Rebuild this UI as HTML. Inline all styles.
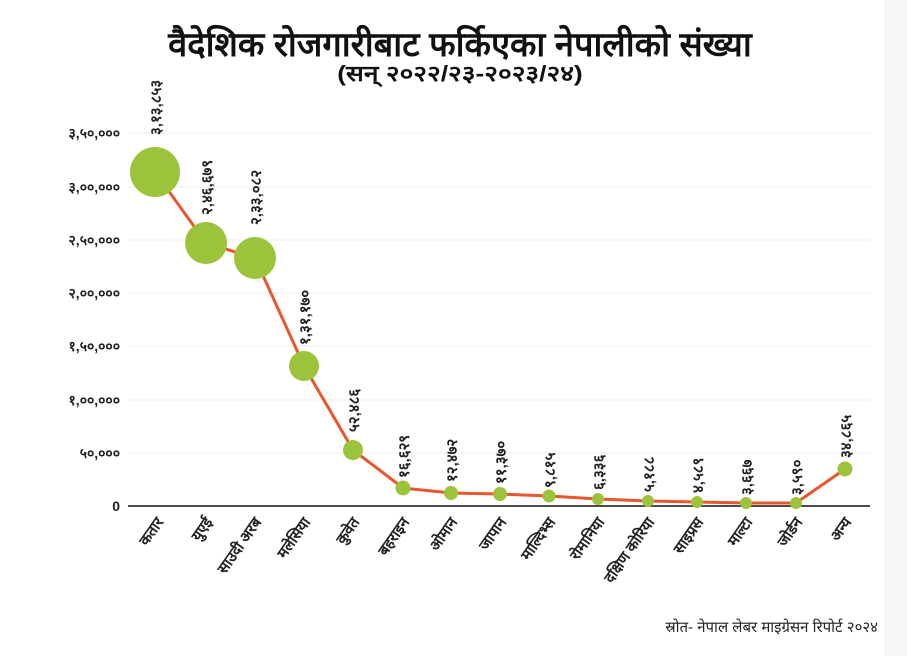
<!DOCTYPE html>
<html><head><meta charset="utf-8"><style>
body{margin:0;background:#fff;}
svg{display:block;font-family:"Liberation Sans","DejaVu Sans",sans-serif;}
</style></head><body>
<svg width="907" height="656" viewBox="0 0 907 656">
<rect x="0" y="0" width="907" height="656" fill="#fff"/>
<rect x="884" y="0" width="23" height="656" fill="#f6f6f6"/>
<text x="460" y="56" text-anchor="middle" font-size="31" font-weight="bold" fill="#111" transform="translate(460,0) scale(1.11,1.1) translate(-460,-5)">वैदेशिक रोजगारीबाट फर्किएका नेपालीको संख्या</text>
<text x="460" y="81" text-anchor="middle" font-size="22" font-weight="bold" fill="#111" transform="translate(460,0) scale(1.2,1) translate(-460,0)">(सन् २०२२/२३-२०२३/२४)</text>
<g stroke="#eeeeee" stroke-width="1">
<line x1="128" x2="870" y1="133" y2="133"/><line x1="128" x2="870" y1="187" y2="187"/>
<line x1="128" x2="870" y1="240" y2="240"/><line x1="128" x2="870" y1="293" y2="293"/>
<line x1="128" x2="870" y1="346" y2="346"/><line x1="128" x2="870" y1="400" y2="400"/>
<line x1="128" x2="870" y1="453" y2="453"/>
</g>
<line x1="128" x2="870" y1="506" y2="506" stroke="#111" stroke-width="1.5"/>
<g font-size="14" font-weight="bold" fill="#222" text-anchor="end">
<text x="120" y="138">३,५०,०००</text><text x="120" y="192">३,००,०००</text>
<text x="120" y="245">२,५०,०००</text><text x="120" y="298">२,००,०००</text>
<text x="120" y="351">१,५०,०००</text><text x="120" y="405">१,००,०००</text>
<text x="120" y="458">५०,०००</text><text x="120" y="511">0</text>
</g>
<polyline fill="none" stroke="#e8562c" stroke-width="3" points="155,172 206,243 255,258 304,366 353,450 403,488 451,493 500,494 549,496 598,499 648,501 697,502 746,503 796,503 845,469"/>
<g fill="#9bc43c">
<circle cx="155" cy="172" r="25"/><circle cx="206" cy="243" r="21"/><circle cx="255" cy="258" r="21"/>
<circle cx="304" cy="366" r="15"/><circle cx="353" cy="450" r="10"/><circle cx="403" cy="488" r="7.5"/>
<circle cx="451" cy="493" r="7"/><circle cx="500" cy="494" r="7"/><circle cx="549" cy="496" r="6.5"/>
<circle cx="598" cy="499" r="6"/><circle cx="648" cy="501" r="6"/><circle cx="697" cy="502" r="6"/>
<circle cx="746" cy="503" r="6"/><circle cx="796" cy="503" r="6"/><circle cx="845" cy="469" r="7.5"/>
</g>
<g font-size="15" font-weight="bold" fill="#222">
<text transform="translate(161,135) rotate(-90)">३,१३,८५३</text>
<text transform="translate(212,215) rotate(-90)">२,४६,६७९</text>
<text transform="translate(261,225) rotate(-90)">२,३३,०८२</text>
<text transform="translate(310,345) rotate(-90)">१,३१,१७०</text>
<text transform="translate(359,432) rotate(-90)">५२,४८६</text>
<text transform="translate(409,478) rotate(-90)">१६,६२९</text>
<text transform="translate(457,482) rotate(-90)">१२,४७२</text>
<text transform="translate(506,484) rotate(-90)">११,३७०</text>
<text transform="translate(555,488) rotate(-90)">९,८१५</text>
<text transform="translate(604,490) rotate(-90)">६,३३६</text>
<text transform="translate(654,492) rotate(-90)">५,१८८</text>
<text transform="translate(703,493) rotate(-90)">४,५८९</text>
<text transform="translate(752,495) rotate(-90)">३,६६७</text>
<text transform="translate(802,495) rotate(-90)">३,५९०</text>
<text transform="translate(851,458) rotate(-90)">३४,८६५</text>
</g>
<g font-size="15" font-weight="bold" fill="#222" text-anchor="end">
<text transform="translate(164,522) rotate(-55)">कतार</text>
<text transform="translate(213,522) rotate(-55)">युएई</text>
<text transform="translate(262,522) rotate(-55)">साउदी अरब</text>
<text transform="translate(311,522) rotate(-55)">मलेसिया</text>
<text transform="translate(360,522) rotate(-55)">कुवेत</text>
<text transform="translate(410,522) rotate(-55)">बहराइन</text>
<text transform="translate(458,522) rotate(-55)">ओमान</text>
<text transform="translate(507,522) rotate(-55)">जापान</text>
<text transform="translate(556,522) rotate(-55)">माल्दिभ्स</text>
<text transform="translate(605,522) rotate(-55)">रोमानिया</text>
<text transform="translate(655,522) rotate(-55)">दक्षिण कोरिया</text>
<text transform="translate(704,522) rotate(-55)">साइप्रस</text>
<text transform="translate(753,522) rotate(-55)">माल्टा</text>
<text transform="translate(803,522) rotate(-55)">जोर्डन</text>
<text transform="translate(852,522) rotate(-55)">अन्य</text>
</g>
<text x="878" y="632" text-anchor="end" font-size="15" fill="#222">स्रोत- नेपाल लेबर माइग्रेसन रिपोर्ट २०२४</text>
</svg>
</body></html>
